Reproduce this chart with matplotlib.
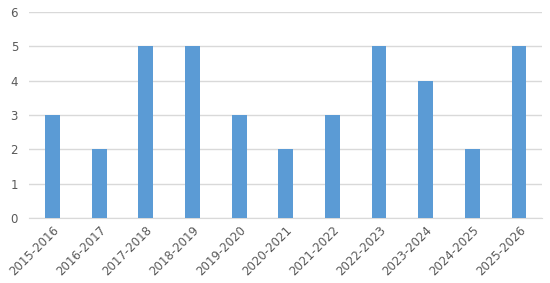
import matplotlib
matplotlib.use("Agg")
import matplotlib.pyplot as plt
import numpy as np

seasons = ["2015-2016", "2016-2017", "2017-2018", "2018-2019", "2019-2020",
           "2020-2021", "2021-2022", "2022-2023", "2023-2024", "2024-2025",
           "2025-2026"]
counts = [3, 2, 5, 5, 3, 2, 3, 5, 4, 2, 5]

fig = plt.figure(figsize=(5.5, 2.83), dpi=100)
ax = fig.add_axes([0.053, 0.23, 0.933, 0.728])

x = np.arange(len(seasons))
ax.bar(x, counts, width=0.32, color="#5B9BD5", zorder=3)

ax.set_xlim(-0.5, len(seasons) - 0.5)
ax.set_ylim(0, 6)
ax.set_yticks(range(0, 7))
ax.yaxis.grid(True, color="#D9D9D9", linewidth=1, zorder=0)
ax.set_xticks(x)
ax.set_xticklabels(seasons, rotation=45, ha="right", rotation_mode="anchor")

for s in ["top", "right", "left"]:
    ax.spines[s].set_visible(False)
ax.spines["bottom"].set_color("#D9D9D9")
ax.tick_params(axis="both", length=0, labelsize=8.5, colors="#595959")
ax.tick_params(axis="x", pad=4)
ax.tick_params(axis="y", pad=8)

fig.savefig("out.png", dpi=100)
